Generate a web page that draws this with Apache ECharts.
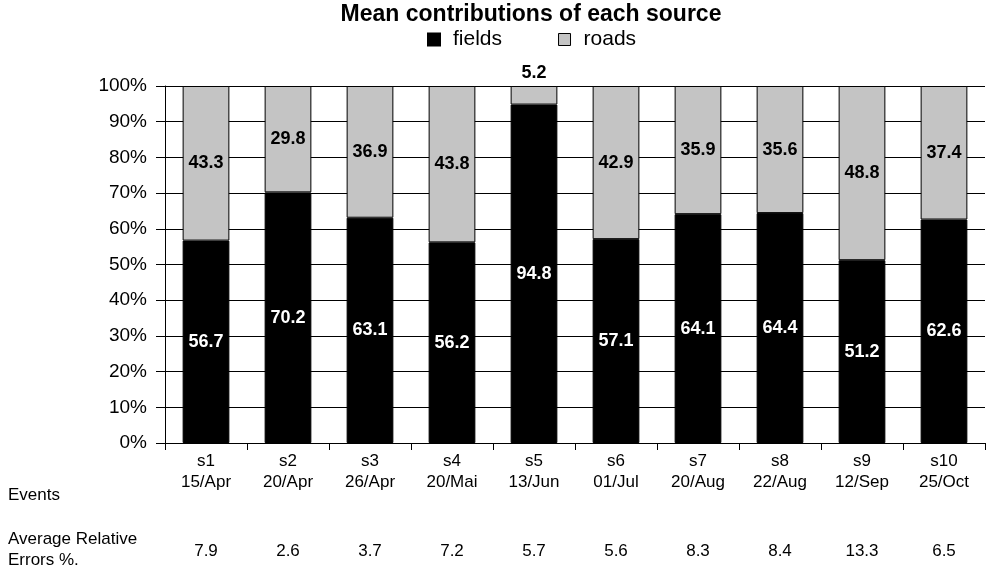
<!DOCTYPE html>
<html><head><meta charset="utf-8">
<script src="https://cdn.jsdelivr.net/npm/echarts@6/dist/echarts.min.js"></script>
<style>html,body{margin:0;padding:0;background:#fff}#c{width:996px;height:576px}</style>
</head><body><div id="c"></div>
<script>
var events = ['s1','s2','s3','s4','s5','s6','s7','s8','s9','s10'];
var dates = ['15/Apr','20/Apr','26/Apr','20/Mai','13/Jun','01/Jul','20/Aug','22/Aug','12/Sep','25/Oct'];
var errors = ['7.9','2.6','3.7','7.2','5.7','5.6','8.3','8.4','13.3','6.5'];
var fields = [56.7,70.2,63.1,56.2,94.8,57.1,64.1,64.4,51.2,62.6];
var roads = [43.3,29.8,36.9,43.8,5.2,42.9,35.9,35.6,48.8,37.4];
var yTicks = [0,10,20,30,40,50,60,70,80,90,100];

var FONT = 'Liberation Sans, Arial, sans-serif';
var chart = echarts.init(document.getElementById('c'));
var cats = events.map(function(e,i){return e+'\n'+dates[i];});
chart.setOption({
  animation:false,
  backgroundColor:'#fff',
  title:{text:'Mean contributions of each source',left:526,textAlign:'center',top:-2,
    textStyle:{fontFamily:FONT,fontWeight:'bold',fontSize:23,color:'#000'}},
  legend:{top:24,left:422,itemWidth:12,itemHeight:12,itemGap:56,icon:'rect',
    textStyle:{fontFamily:FONT,fontSize:21,color:'#000',padding:[0,0,0,8]},
    data:[{name:'fields',itemStyle:{color:'#000'}},{name:'roads',itemStyle:{color:'#c4c4c4',borderColor:'#000',borderWidth:1}}]},
  grid:{left:165,right:11,top:86,bottom:133,containLabel:false},
  xAxis:[{type:'category',data:cats,position:'bottom',
    axisLine:{lineStyle:{color:'#000',width:1}},
    axisTick:{show:true,length:7,lineStyle:{color:'#000'}},
    axisLabel:{fontFamily:FONT,fontSize:17,color:'#000',lineHeight:21,margin:8,interval:0}},
   {type:'category',data:errors,position:'bottom',offset:90,
    axisLine:{show:false},axisTick:{show:false},
    axisLabel:{fontFamily:FONT,fontSize:17,color:'#000',lineHeight:20,margin:8,interval:0}}],
  yAxis:{type:'value',min:0,max:100,interval:10,
    axisLine:{show:true,lineStyle:{color:'#000'}},
    axisTick:{show:true,length:9,lineStyle:{color:'#000'}},
    splitLine:{show:true,lineStyle:{color:'#000',width:1}},
    axisLabel:{fontFamily:FONT,fontSize:19,color:'#000',margin:18,formatter:function(v){return yTicks.indexOf(v)>=0? v+'%':'';}}},
  graphic:[
    {type:'text',left:8,top:487,style:{text:'Events',font:'17px '+FONT,fill:'#000'}},
    {type:'text',left:8,top:529,style:{text:'Average Relative\nErrors %.',font:'17px '+FONT,fill:'#000',lineHeight:21}}
  ],
  series:[
    {name:'fields',type:'bar',stack:'a',barWidth:'57%',data:fields,
     itemStyle:{color:'#000',borderColor:'#000',borderWidth:1},
     label:{show:true,position:'inside',color:'#fff',fontFamily:FONT,fontWeight:'bold',fontSize:18,formatter:function(p){return p.value.toFixed(1);}}},
    {name:'roads',type:'bar',stack:'a',barWidth:'57%',
     data:roads.map(function(v){return v<10?{value:v,label:{position:'top',distance:4}}:v;}),
     itemStyle:{color:'#c4c4c4',borderColor:'#000',borderWidth:1},
     label:{show:true,position:'inside',color:'#000',fontFamily:FONT,fontWeight:'bold',fontSize:18,formatter:function(p){return p.value.toFixed(1);}}}
  ]
});
</script></body></html>
